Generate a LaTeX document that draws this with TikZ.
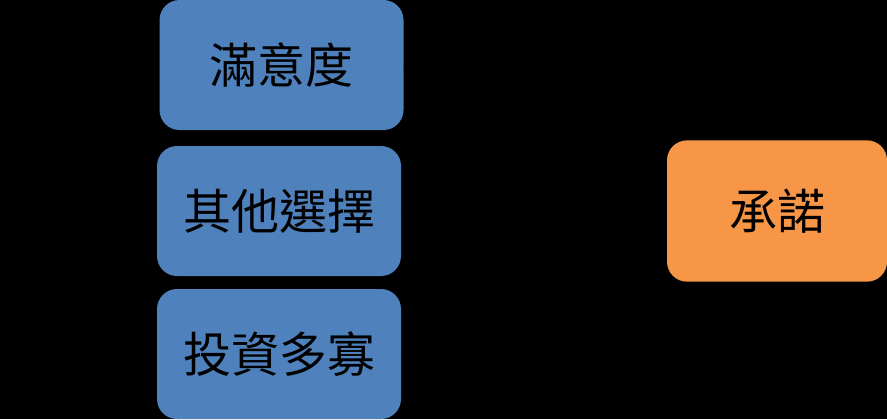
\documentclass[tikz,border=0pt]{standalone}
\usepackage{fontspec}
\newfontfamily\cjk{Noto Sans CJK TC}
\definecolor{boxblue}{RGB}{79,129,189}
\definecolor{boxorange}{RGB}{247,150,70}

\begin{document}
\begin{tikzpicture}[x=0.75pt,y=-0.75pt,
  factor/.style={fill=boxblue,rounded corners=15pt,minimum width=183pt,minimum height=97.5pt,inner sep=0pt,font=\cjk\fontsize{36}{40}\selectfont},
  result/.style={fill=boxorange,rounded corners=15pt,minimum width=165pt,minimum height=106pt,inner sep=0pt,font=\cjk\fontsize{36}{40}\selectfont}]
\fill[black] (0,0) rectangle (887,419);
\useasboundingbox (0,0) rectangle (887,419);
\node[factor] (sat) at (281.5,65) {滿意度};
\node[factor] (alt) at (279,211) {其他選擇};
\node[factor] (inv) at (279,354) {投資多寡};
\node[result] (com) at (777,211) {承諾};
\draw[->,black,thick] (sat.east) -- (com.west);
\draw[->,black,thick] (alt.east) -- (com.west);
\draw[->,black,thick] (inv.east) -- (com.west);
\end{tikzpicture}
\end{document}
